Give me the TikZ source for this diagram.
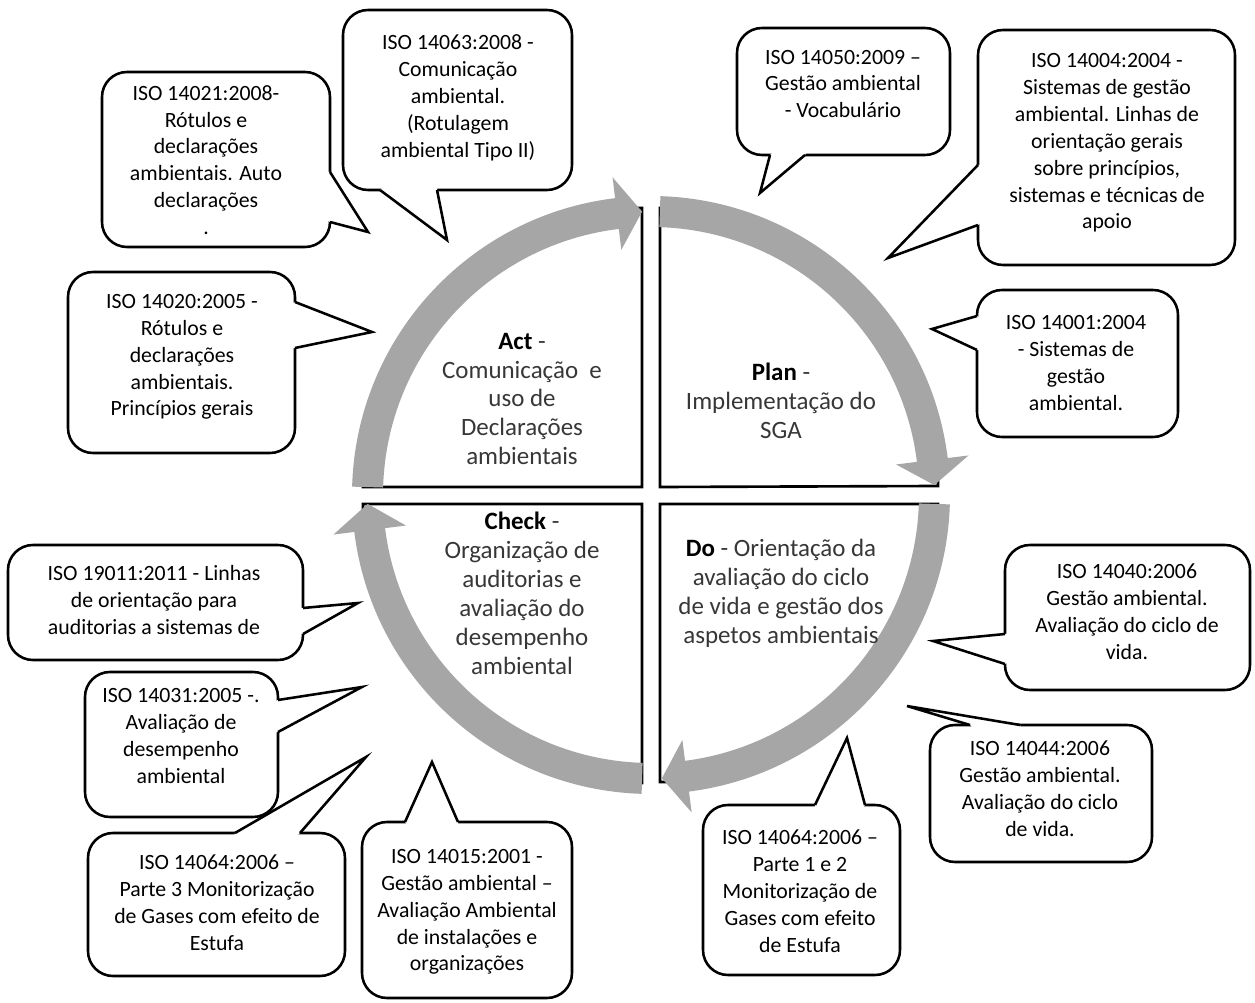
\documentclass[tikz,border=0pt]{standalone}
\usepackage{fontspec}
\setmainfont{Carlito}
\usetikzlibrary{calc}
\definecolor{arrowgray}{RGB}{166,166,166}
\definecolor{centergray}{RGB}{55,55,55}
\newcommand\kw[1]{\textcolor{black}{\textbf{#1}}}
% callout pointer: node, base a, tip, base b
\newcommand\callptr[4]{%
  \coordinate (#1-a) at (#2);
  \coordinate (#1-tip) at (#3);
  \coordinate (#1-b) at (#4);
  \fill[white] ($(#1-a)!6pt!(#1.center)$) -- (#1-a) -- (#1-tip) -- (#1-b) -- ($(#1-b)!6pt!(#1.center)$) -- cycle;
  \draw[bubline] (#1-a) -- (#1-tip) -- (#1-b);}
% cycle arrow: start angle, head base angle, tip angle (screen angles, clockwise)
\newcommand\cycarrow[3]{%
  \fill[arrowgray] (#1:299) arc[start angle=#1, end angle=#2, radius=299] -- (#2:320) -- (#3:283.5) -- (#2:247) -- (#2:268) arc[start angle=#2, end angle=#1, radius=268] -- cycle;}
\begin{document}
\begin{tikzpicture}[x=0.02cm,y=-0.02cm,
  quad/.style={draw=black,fill=white,line width=1.5pt},
  bubline/.style={draw=black,line width=1.45pt,line join=miter},
  bubble/.style={draw=black,fill=white,line width=1.45pt,rounded corners=0.5cm,inner sep=0pt,outer sep=0pt},
  bsize/.style 2 args={minimum width=#1*0.02cm,minimum height=#2*0.02cm},
  btext/.style={align=center,inner sep=0pt,font=\fontsize{12.4}{15.3}\selectfont},
  ctext/.style={align=center,inner sep=0pt,text=centergray,font=\fontsize{14.2}{16.5}\selectfont}]
\useasboundingbox (0,0) rectangle (1255,1003);
\fill[white] (0,0) rectangle (1255,1003);

% quadrants
\draw[quad] (642,487) -- (363,487) arc[start angle=180, end angle=270, radius=279] -- cycle;
\draw[quad] (660,487) -- (660,208) arc[start angle=270, end angle=360, radius=278] -- cycle;
\draw[quad] (660,504) -- (938,504) arc[start angle=0, end angle=90, radius=278] -- cycle;
\draw[quad] (642,504) -- (642,783) arc[start angle=90, end angle=180, radius=279] -- cycle;

% cycle arrows
\begin{scope}[shift={(651,495)}]
\cycarrow{181.6}{263.1}{268.2}
\cycarrow{271.8}{352.9}{358}
\cycarrow{1.8}{82.7}{87.8}
\cycarrow{91.8}{172.9}{178.2}
\end{scope}

% quadrant texts
\node[ctext] (tact) at (522,399) {\kw{Act} -\\Comunicação~ e\\uso de\\Declarações\\ambientais};
\node[ctext] (tplan) at (781,401) {\kw{Plan} -\\Implementação do\\SGA};
\node[ctext] (tcheck) at (522,593) {\kw{Check} -\\Organização de\\auditorias e\\avaliação do\\desempenho\\ambiental};
\node[ctext] (tdo) at (781,593) {\kw{Do} - Orientação da\\avaliação do ciclo\\de vida e gestão dos\\aspetos ambientais};

% callouts
\node[bubble,bsize={228}{175}] (b14021) at (216,159.5) {};
\callptr{b14021}{b14021.east |- 0,172}{368,232}{b14021.east |- 0,222}
\node[btext] (t14021) at (206,160) {ISO 14021:2008-\\Rótulos e\\declarações\\ambientais. Auto\\declarações\\.};

\node[bubble,bsize={229}{180}] (b14063) at (457.5,100) {};
\callptr{b14063}{380,0 |- b14063.south}{447,240}{437,0 |- b14063.south}
\node[btext] (t14063) at (458,98) {ISO 14063:2008 -\\Comunicação\\ambiental.\\(Rotulagem\\ambiental Tipo II)};

\node[bubble,bsize={213}{127}] (b14050) at (843.5,91.5) {};
\callptr{b14050}{770,0 |- b14050.south}{760,193}{805,0 |- b14050.south}
\node[btext] (t14050) at (843,84) {ISO 14050:2009 –\\Gestão ambiental\\- Vocabulário};

\node[bubble,bsize={257}{235}] (b14004) at (1106.5,147.5) {};
\callptr{b14004}{b14004.west |- 0,165}{888,258}{b14004.west |- 0,225}
\node[btext] (t14004) at (1107,143) {ISO 14004:2004 -\\Sistemas de gestão\\ambiental. Linhas de\\orientação gerais\\sobre princípios,\\sistemas e técnicas de\\apoio};

\node[bubble,bsize={227}{181}] (b14020) at (181.5,362.5) {};
\callptr{b14020}{b14020.east |- 0,302}{372,332}{b14020.east |- 0,348}
\node[btext] (t14020) at (182,357) {ISO 14020:2005 -\\Rótulos e\\declarações\\ambientais.\\Princípios gerais};

\node[bubble,bsize={201}{147}] (b14001) at (1077.5,363.5) {};
\callptr{b14001}{b14001.west |- 0,316}{932,329}{b14001.west |- 0,350}
\node[btext] (t14001) at (1076,363) {ISO 14001:2004\\- Sistemas de\\gestão\\ambiental.};

\node[bubble,bsize={295}{115}] (b19011) at (155.5,602.5) {};
\callptr{b19011}{b19011.east |- 0,608}{358,603}{b19011.east |- 0,634}
\node[btext] (t19011) at (154,600) {ISO 19011:2011 - Linhas\\de orientação para\\auditorias a sistemas de};

\node[bubble,bsize={193}{145}] (b14031) at (181.5,744.5) {};
\callptr{b14031}{b14031.east |- 0,700}{362,687}{b14031.east |- 0,732}
\node[btext] (t14031) at (181,736) {ISO 14031:2005 -.\\Avaliação de\\desempenho\\ambiental};

\node[bubble,bsize={257}{143}] (b14064l) at (216.5,904.5) {};
\callptr{b14064l}{235,0 |- b14064l.north}{366,757}{300,0 |- b14064l.north}
\node[btext] (t14064l) at (217,903) {ISO 14064:2006 –\\Parte 3 Monitorização\\de Gases com efeito de\\Estufa};

\node[bubble,bsize={210}{176}] (b14015) at (467,910) {};
\callptr{b14015}{405,0 |- b14015.north}{432,762}{458,0 |- b14015.north}
\node[btext] (t14015) at (467,912) {ISO 14015:2001 -\\Gestão ambiental –\\Avaliação Ambiental\\de instalações e\\organizações};

\node[bubble,bsize={197}{170}] (b14064r) at (801.5,890) {};
\callptr{b14064r}{815,0 |- b14064r.north}{847,738}{865,0 |- b14064r.north}
\node[btext] (t14064r) at (800,891) {ISO 14064:2006 –\\Parte 1 e 2\\Monitorização de\\Gases com efeito\\de Estufa};

\node[bubble,bsize={222}{137}] (b14044) at (1041,793.5) {};
\callptr{b14044}{970,0 |- b14044.north}{907,706}{1020,0 |- b14044.north}
\node[btext] (t14044) at (1040,789) {ISO 14044:2006\\Gestão ambiental.\\Avaliação do ciclo\\de vida.};

\node[bubble,bsize={245}{145}] (b14040) at (1127.5,617.5) {};
\callptr{b14040}{b14040.west |- 0,634}{933,641}{b14040.west |- 0,664}
\node[btext] (t14040) at (1127,612) {ISO 14040:2006\\Gestão ambiental.\\Avaliação do ciclo de\\vida.};
\end{tikzpicture}
\end{document}
